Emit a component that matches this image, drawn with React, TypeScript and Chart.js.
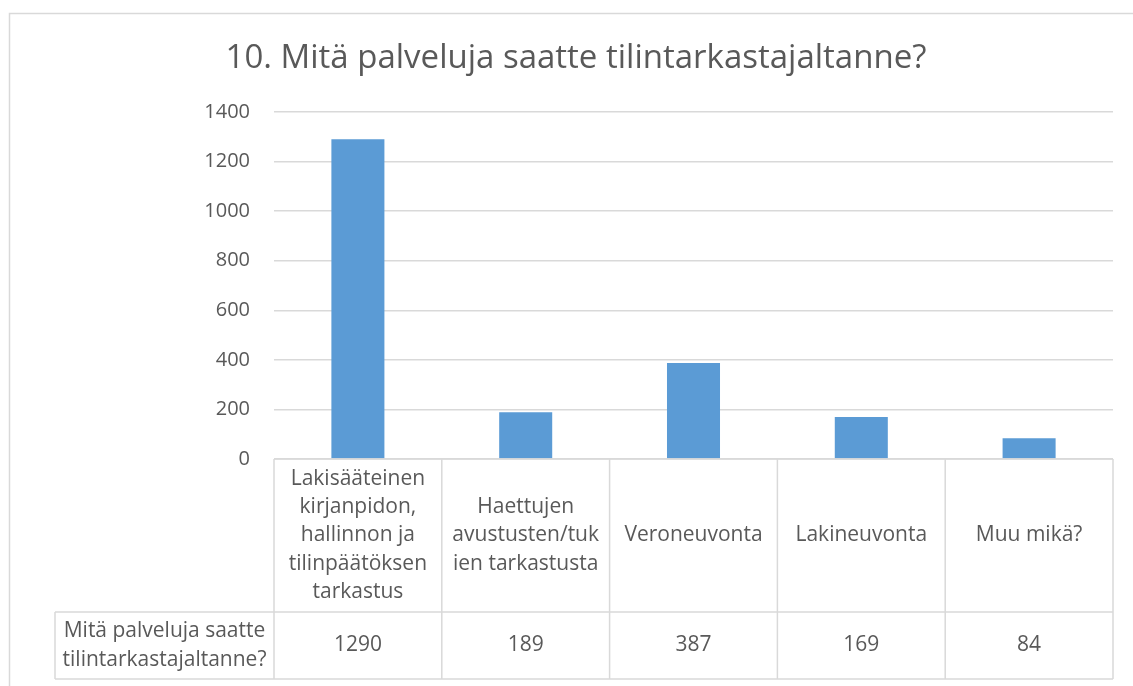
import React, { useEffect, useRef } from "react";
import { Chart, registerables } from "chart.js";

Chart.register(...registerables);

const TITLE = "10. Mitä palveluja saatte tilintarkastajaltanne?";
const CATEGORIES: string[][] = [
  ["Lakisääteinen", "kirjanpidon,", "hallinnon ja", "tilinpäätöksen", "tarkastus"],
  ["Haettujen", "avustusten/tuk", "ien tarkastusta"],
  ["Veroneuvonta"],
  ["Lakineuvonta"],
  ["Muu mikä?"],
];
const SERIES_NAME: string[] = ["Mitä palveluja saatte", "tilintarkastajaltanne?"];
const VALUES: number[] = [1290, 189, 387, 169, 84];
const Y_TICKS: number[] = [0, 200, 400, 600, 800, 1000, 1200, 1400];

const FONT = "'Open Sans', sans-serif";
const TEXT = "#595959";
const LINE = "#D9D9D9";
const BAR = "#5B9BD5";

const tablePlugin = {
  id: "dataTable",
  afterDraw(chart: any) {
    const ctx = chart.ctx as CanvasRenderingContext2D;
    const x = chart.scales.x;
    const area = chart.chartArea;
    const n = CATEGORIES.length;
    const colW = (area.right - area.left) / n;
    const top = area.bottom;
    const mid = top + 153;
    const bottom = mid + 67;
    const headerLeft = 55;

    ctx.save();
    // outer chart border
    ctx.strokeStyle = LINE;
    ctx.lineWidth = 1.5;
    ctx.beginPath();
    ctx.moveTo(9.5, 700);
    ctx.lineTo(9.5, 13.5);
    ctx.lineTo(1140, 13.5);
    ctx.stroke();

    // title
    ctx.fillStyle = TEXT;
    ctx.font = `33px ${FONT}`;
    ctx.textAlign = "center";
    ctx.textBaseline = "alphabetic";
    ctx.fillText(TITLE, 576, 68);

    // table grid
    ctx.strokeStyle = LINE;
    ctx.lineWidth = 1.5;
    ctx.beginPath();
    ctx.moveTo(area.left, top);
    ctx.lineTo(area.right, top);
    ctx.moveTo(headerLeft, mid);
    ctx.lineTo(area.right, mid);
    ctx.moveTo(headerLeft, bottom);
    ctx.lineTo(area.right, bottom);
    ctx.moveTo(headerLeft, mid);
    ctx.lineTo(headerLeft, bottom);
    for (let i = 0; i <= n; i++) {
      const cx = i < n ? x.getPixelForValue(i) - colW / 2 : x.getPixelForValue(n - 1) + colW / 2;
      ctx.moveTo(cx, top);
      ctx.lineTo(cx, bottom);
    }
    ctx.stroke();

    // texts
    ctx.fillStyle = TEXT;
    ctx.font = `21px ${FONT}`;
    ctx.textAlign = "center";
    ctx.textBaseline = "middle";
    const lh = 28.2;
    const catMid = (top + mid) / 2;
    const valMid = (mid + bottom) / 2;
    CATEGORIES.forEach((lines, i) => {
      const cx = x.getPixelForValue(i);
      const start = catMid - ((lines.length - 1) * lh) / 2;
      lines.forEach((t, j) => ctx.fillText(t, cx, start + j * lh));
      ctx.fillText(String(VALUES[i]), cx, valMid);
    });
    const hx = (headerLeft + area.left) / 2;
    const hs = valMid - ((SERIES_NAME.length - 1) * lh) / 2;
    SERIES_NAME.forEach((t, j) => ctx.fillText(t, hx, hs + j * lh));
    ctx.restore();
  },
};

export default function App() {
  const ref = useRef<HTMLCanvasElement | null>(null);
  useEffect(() => {
    if (!ref.current) return;
    const chart = new Chart(ref.current, {
      type: "bar",
      data: {
        labels: CATEGORIES.map((c) => c.join(" ")),
        datasets: [
          {
            label: SERIES_NAME.join(" "),
            data: VALUES,
            backgroundColor: BAR,
            categoryPercentage: 1,
            barPercentage: 0.316,
          },
        ],
      },
      options: {
        responsive: false,
        animation: false,
        layout: { padding: { left: 174, top: 112, right: 20, bottom: 227 } },
        plugins: { legend: { display: false }, tooltip: { enabled: false }, title: { display: false } },
        scales: {
          x: { display: false, offset: true },
          y: {
            min: 0,
            max: 1400,
            afterFit: (s: any) => {
              s.width = 100;
            },
            afterBuildTicks: (s: any) => {
              s.ticks = Y_TICKS.map((v) => ({ value: v }));
            },
            border: { display: false },
            grid: { color: LINE, lineWidth: 1.5, drawTicks: false },
            ticks: {
              padding: 24,
              color: TEXT,
              font: { family: "'Open Sans', sans-serif", size: 20 },
              callback: (v: any) => String(v),
            },
          },
        },
      },
      plugins: [tablePlugin],
    });
    return () => chart.destroy();
  }, []);
  return (
    <div style={{ position: "fixed", left: 0, top: 0, width: 1133, height: 686, background: "#fff" }}>
      <canvas ref={ref} width={1133} height={686} style={{ display: "block" }} />
    </div>
  );
}
